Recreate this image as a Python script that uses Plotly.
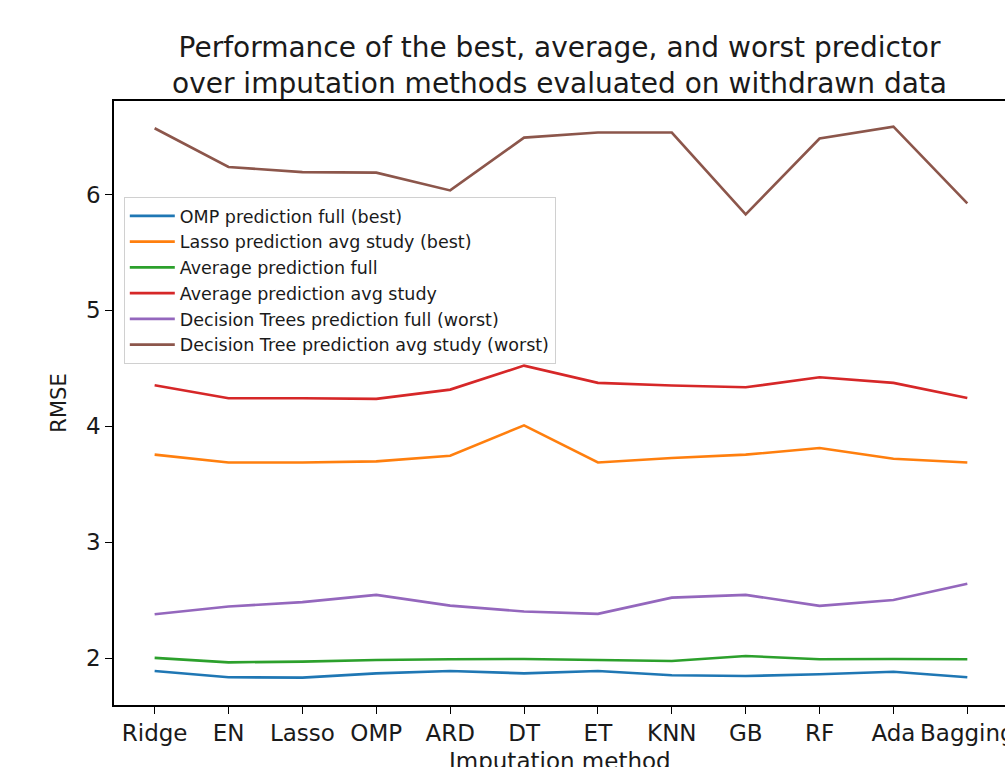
import plotly.graph_objects as go

# Imputation methods on the x axis
methods = ["Ridge", "EN", "Lasso", "OMP", "ARD", "DT", "ET", "KNN", "GB", "RF", "Ada", "Bagging"]

# RMSE per predictor / imputation method
omp_full_best = [1.89, 1.836, 1.833, 1.87, 1.89, 1.87, 1.89, 1.853, 1.847, 1.862, 1.884, 1.836]
lasso_avg_best = [3.756, 3.689, 3.689, 3.698, 3.747, 4.009, 3.689, 3.727, 3.756, 3.813, 3.721, 3.689]
average_full = [2.003, 1.965, 1.971, 1.985, 1.991, 1.994, 1.985, 1.977, 2.02, 1.991, 1.994, 1.991]
average_avg = [4.354, 4.242, 4.242, 4.237, 4.317, 4.524, 4.375, 4.352, 4.337, 4.423, 4.375, 4.245]
dt_full_worst = [2.38, 2.446, 2.484, 2.547, 2.454, 2.403, 2.383, 2.523, 2.547, 2.452, 2.503, 2.642]
dt_avg_worst = [6.571, 6.237, 6.193, 6.188, 6.035, 6.49, 6.534, 6.534, 5.828, 6.482, 6.585, 5.923]

series = [
    ("OMP prediction full (best)", omp_full_best, "#1f77b4"),
    ("Lasso prediction avg study (best)", lasso_avg_best, "#ff7f0e"),
    ("Average prediction full", average_full, "#2ca02c"),
    ("Average prediction avg study", average_avg, "#d62728"),
    ("Decision Trees prediction full (worst)", dt_full_worst, "#9467bd"),
    ("Decision Tree prediction avg study (worst)", dt_avg_worst, "#8c564b"),
]

x_idx = list(range(len(methods)))

fig = go.Figure()
for name, vals, color in series:
    fig.add_trace(go.Scatter(
        x=x_idx, y=vals, mode="lines", name=name,
        line=dict(color=color, width=2.6),
    ))

font_family = "DejaVu Sans"

fig.update_layout(
    width=1005, height=767,
    margin=dict(l=114, r=0, t=101, b=62),
    paper_bgcolor="white", plot_bgcolor="white",
    font=dict(family=font_family, color="#1a1a1a", size=20),
    title=dict(
        text="Performance of the best, average, and worst predictor<br>over imputation methods evaluated on withdrawn data",
        x=0.5, xref="paper", xanchor="center",
        y=1 - 57 / 767, yanchor="middle",
        font=dict(size=28, family=font_family, color="#1a1a1a"),
    ),
    showlegend=True,
    legend=dict(
        x=0.011, y=0.841, xanchor="left", yanchor="top",
        bgcolor="white", bordercolor="#d0d0d0", borderwidth=1,
        font=dict(size=17.5, family=font_family, color="#1a1a1a"),
        tracegroupgap=0, itemwidth=45,
    ),
    xaxis=dict(
        range=[-0.55, 11.51],
        tickmode="array", tickvals=x_idx, ticktext=methods,
        ticklabeloverflow="allow", automargin=False,
        showline=True, linecolor="black", linewidth=1.5, mirror=True,
        ticks="outside", ticklen=7, tickcolor="black", tickwidth=1.3,
        showgrid=False, zeroline=False,
        tickfont=dict(size=23),
    ),
    yaxis=dict(
        range=[1.597, 6.806], automargin=False,
        tickmode="array", tickvals=[2, 3, 4, 5, 6],
        showline=True, linecolor="black", linewidth=1.5, mirror=False,
        ticks="outside", ticklen=7, tickcolor="black", tickwidth=1.3,
        showgrid=False, zeroline=False,
        tickfont=dict(size=23),
        title=dict(text="RMSE", font=dict(size=21), standoff=14),
    ),
)

# x-axis title placed below the tick labels
fig.add_annotation(
    text="Imputation method", showarrow=False,
    xref="paper", yref="paper", x=0.5, y=-0.093,
    xanchor="center", yanchor="middle",
    font=dict(size=23, family=font_family, color="#1a1a1a"),
)

fig.write_html("out.html")
